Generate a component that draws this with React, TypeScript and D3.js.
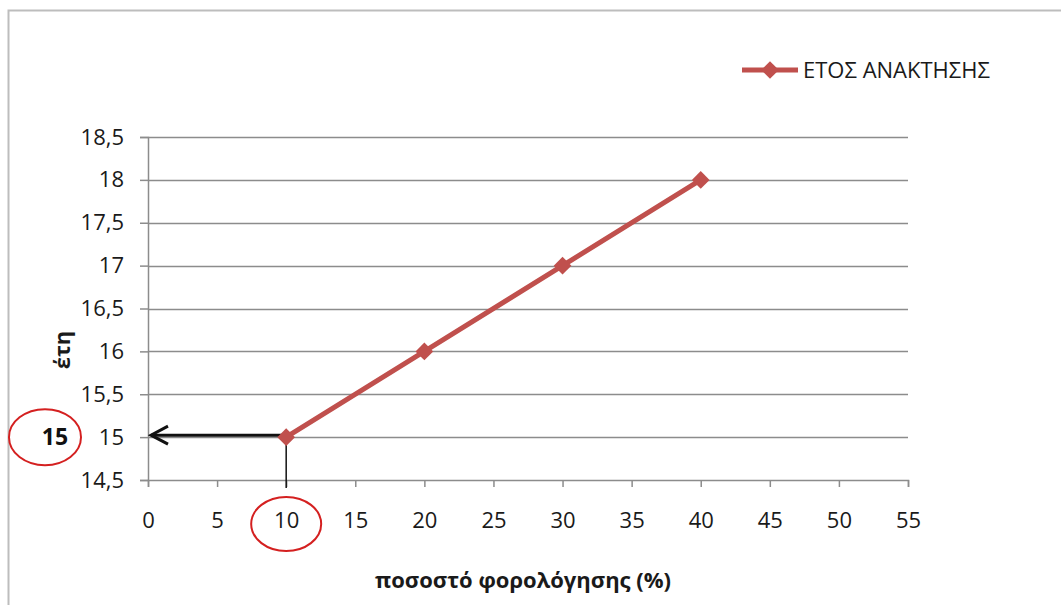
import { useEffect, useRef } from 'react';
import * as d3 from 'd3';

const taxRate = [10, 20, 30, 40];
const years = [15, 16, 17, 18];
const xTicks = [0, 5, 10, 15, 20, 25, 30, 35, 40, 45, 50, 55];
const yTicks = [14.5, 15, 15.5, 16, 16.5, 17, 17.5, 18, 18.5];
const seriesName = 'ΕΤΟΣ ΑΝΑΚΤΗΣΗΣ';
const xTitle = 'ποσοστό φορολόγησης (%)';
const yTitle = 'έτη';
const pickX = 10;
const pickY = 15;

const FONT = '"Open Sans", "Noto Sans", sans-serif';
const RED = '#C0504D';

function App() {
  const svgRef = useRef<SVGSVGElement>(null);

  useEffect(() => {
    const W = 1061;
    const H = 605;
    const svg = d3.select(svgRef.current).attr('width', W).attr('height', H);
    svg.selectAll('*').remove();

    // chart frame (only top and left edges visible)
    svg.append('path')
      .attr('d', `M8.5,${H} V10.5 H${W}`)
      .attr('fill', 'none')
      .attr('stroke', '#bdbdbd')
      .attr('stroke-width', 2);

    const x = d3.scaleLinear().domain([0, 55]).range([148, 908]);
    const y = d3.scaleLinear().domain([14.5, 18.5]).range([480, 137]);
    const fmt = (v: number) => String(v).replace('.', ',');

    // gridlines
    svg.append('g')
      .selectAll('line')
      .data(yTicks.slice(1))
      .join('line')
      .attr('x1', x(0)).attr('x2', x(55))
      .attr('y1', d => Math.round(y(d)) + 0.5).attr('y2', d => Math.round(y(d)) + 0.5)
      .attr('stroke', '#8c8c8c').attr('stroke-width', 1.5);

    // y axis
    const yAxis = svg.append('g')
      .attr('transform', `translate(${x(0)},0)`)
      .call(d3.axisLeft(y).tickValues(yTicks).tickSize(8).tickPadding(16).tickFormat(d => fmt(+d)));
    yAxis.select('.domain').attr('stroke', '#8c8c8c').attr('stroke-width', 1.5);
    yAxis.selectAll('.tick line').attr('stroke', '#8c8c8c').attr('stroke-width', 1.5);
    yAxis.selectAll('text').attr('font-family', FONT).attr('font-size', 22).attr('fill', '#1a1a1a');

    // x axis
    const xAxis = svg.append('g')
      .attr('transform', `translate(0,${y(14.5)})`)
      .call(d3.axisBottom(x).tickValues(xTicks).tickSize(7).tickPadding(25).tickFormat(d => String(d)));
    xAxis.select('.domain').attr('stroke', '#8c8c8c').attr('stroke-width', 1.5);
    xAxis.selectAll('.tick line').attr('stroke', '#8c8c8c').attr('stroke-width', 1.5);
    xAxis.selectAll('text').attr('font-family', FONT).attr('font-size', 22).attr('fill', '#1a1a1a');

    // axis titles
    svg.append('text')
      .attr('x', 523).attr('y', 588)
      .attr('text-anchor', 'middle')
      .attr('font-family', FONT).attr('font-size', 22).attr('font-weight', 'bold')
      .attr('fill', '#1a1a1a')
      .text(xTitle);
    svg.append('text')
      .attr('transform', 'translate(70,350) rotate(-90)')
      .attr('text-anchor', 'middle')
      .attr('font-family', FONT).attr('font-size', 22).attr('font-weight', 'bold')
      .attr('fill', '#1a1a1a')
      .text(yTitle);

    // annotation: read-off lines
    svg.append('line')
      .attr('x1', x(pickX)).attr('x2', x(pickX))
      .attr('y1', y(pickY)).attr('y2', y(14.5) + 8)
      .attr('stroke', '#111').attr('stroke-width', 1.5);
    svg.append('line')
      .attr('x1', x(pickX)).attr('x2', x(0) + 3)
      .attr('y1', y(pickY) - 2).attr('y2', y(pickY) - 2)
      .attr('stroke', '#111').attr('stroke-width', 3);
    svg.append('path')
      .attr('d', `M${x(0) + 20},${y(pickY) - 11} L${x(0) + 3},${y(pickY) - 2} L${x(0) + 20},${y(pickY) + 7}`)
      .attr('fill', 'none').attr('stroke', '#111').attr('stroke-width', 3);

    // series
    const line = d3.line<number>().x((d, i) => x(taxRate[i])).y(d => y(d));
    svg.append('path')
      .datum(years)
      .attr('d', line)
      .attr('fill', 'none')
      .attr('stroke', RED)
      .attr('stroke-width', 5);

    const diamond = d3.symbol().type(d3.symbolDiamond2).size(200);
    svg.append('g')
      .selectAll('path')
      .data(years)
      .join('path')
      .attr('transform', (d, i) => `translate(${x(taxRate[i])},${y(d)})`)
      .attr('d', diamond)
      .attr('fill', RED);

    // annotation: highlighted value and red ellipses
    svg.append('text')
      .attr('x', 55).attr('y', y(pickY) + 8)
      .attr('text-anchor', 'middle')
      .attr('font-family', FONT).attr('font-size', 23).attr('font-weight', 'bold')
      .attr('fill', '#111')
      .text(String(pickY));
    svg.append('ellipse')
      .attr('cx', 45).attr('cy', y(pickY))
      .attr('rx', 36).attr('ry', 28)
      .attr('fill', 'none').attr('stroke', '#d42020').attr('stroke-width', 2);
    svg.append('ellipse')
      .attr('cx', x(pickX)).attr('cy', 524)
      .attr('rx', 35).attr('ry', 27)
      .attr('fill', 'none').attr('stroke', '#d42020').attr('stroke-width', 2);

    // legend
    const lg = svg.append('g').attr('transform', 'translate(742,70)');
    lg.append('line')
      .attr('x1', 0).attr('x2', 56)
      .attr('stroke', RED).attr('stroke-width', 5);
    lg.append('path')
      .attr('transform', 'translate(28,0)')
      .attr('d', diamond)
      .attr('fill', RED);
    lg.append('text')
      .attr('x', 61).attr('y', 8)
      .attr('font-family', FONT).attr('font-size', 22)
      .attr('fill', '#1a1a1a')
      .text(seriesName);
  }, []);

  return (
    <div style={{ position: 'absolute', left: 0, top: 0 }}>
      <svg ref={svgRef} style={{ display: 'block', background: '#fff' }}></svg>
    </div>
  );
}

export default App;
